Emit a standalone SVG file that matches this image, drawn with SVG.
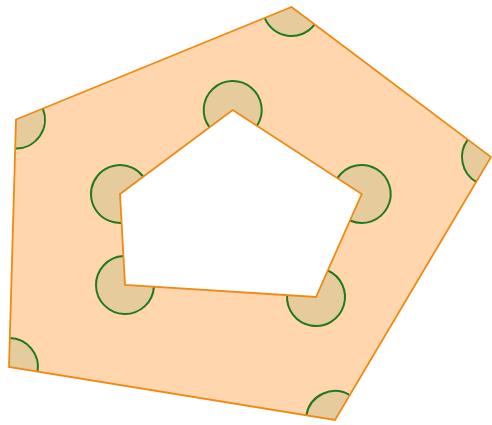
<svg xmlns="http://www.w3.org/2000/svg" width="492" height="425" viewBox="0 0 492 425">
  <style>
    .region { fill: #FFD6AE; stroke: none; fill-rule: evenodd; }
    .edge { fill: none; stroke: #F08A12; stroke-width: 1.8; stroke-linejoin: miter; }
    .sector { fill: #E6CB9D; stroke: none; }
    .arc { fill: none; stroke: #217A1E; stroke-width: 2; }
  </style>
  <rect width="492" height="425" fill="#FFFFFF"/>
  <g id="region">
    <path class="region" d="M291.5,7 L491,157 L335,420 L9,367 L16,119.5 Z M232.7,110 L361.7,194 L316,297 L125,285 L120,194 Z"/>
  </g>
  <g id="outer-angles">
    <path class="sector" d="M291.5,7 L264.65,17.96 A29,29 0 0 0 314.68,24.43 Z"/>
    <path class="arc" d="M264.65,17.96 A29,29 0 0 0 314.68,24.43"/>
    <path class="sector" d="M491,157 L467.82,139.57 A29,29 0 0 0 476.21,181.94 Z"/>
    <path class="arc" d="M467.82,139.57 A29,29 0 0 0 476.21,181.94"/>
    <path class="sector" d="M335,420 L349.79,395.06 A29,29 0 0 0 306.38,415.35 Z"/>
    <path class="arc" d="M349.79,395.06 A29,29 0 0 0 306.38,415.35"/>
    <path class="sector" d="M9,367 L37.62,371.65 A29,29 0 0 0 9.82,338.01 Z"/>
    <path class="arc" d="M37.62,371.65 A29,29 0 0 0 9.82,338.01"/>
    <path class="sector" d="M16,119.5 L15.18,148.49 A29,29 0 0 0 42.85,108.54 Z"/>
    <path class="arc" d="M15.18,148.49 A29,29 0 0 0 42.85,108.54"/>
  </g>
  <g id="inner-angles">
    <path class="sector" d="M232.7,110 L257.01,125.83 A29,29 0 1 0 209.45,127.33 Z"/>
    <path class="arc" d="M257.01,125.83 A29,29 0 1 0 209.45,127.33"/>
    <path class="sector" d="M361.7,194 L349.94,220.51 A29,29 0 1 0 337.39,178.17 Z"/>
    <path class="arc" d="M349.94,220.51 A29,29 0 1 0 337.39,178.17"/>
    <path class="sector" d="M316,297 L287.06,295.18 A29,29 0 1 0 327.76,270.49 Z"/>
    <path class="arc" d="M287.06,295.18 A29,29 0 1 0 327.76,270.49"/>
    <path class="sector" d="M125,285 L123.41,256.04 A29,29 0 1 0 153.94,286.82 Z"/>
    <path class="arc" d="M123.41,256.04 A29,29 0 1 0 153.94,286.82"/>
    <path class="sector" d="M120,194 L143.25,176.67 A29,29 0 1 0 121.59,222.96 Z"/>
    <path class="arc" d="M143.25,176.67 A29,29 0 1 0 121.59,222.96"/>
  </g>
  <g id="edges">
    <path class="edge" d="M291.5,7 L491,157 L335,420 L9,367 L16,119.5 Z"/>
    <path class="edge" d="M232.7,110 L361.7,194 L316,297 L125,285 L120,194 Z"/>
  </g>
</svg>
